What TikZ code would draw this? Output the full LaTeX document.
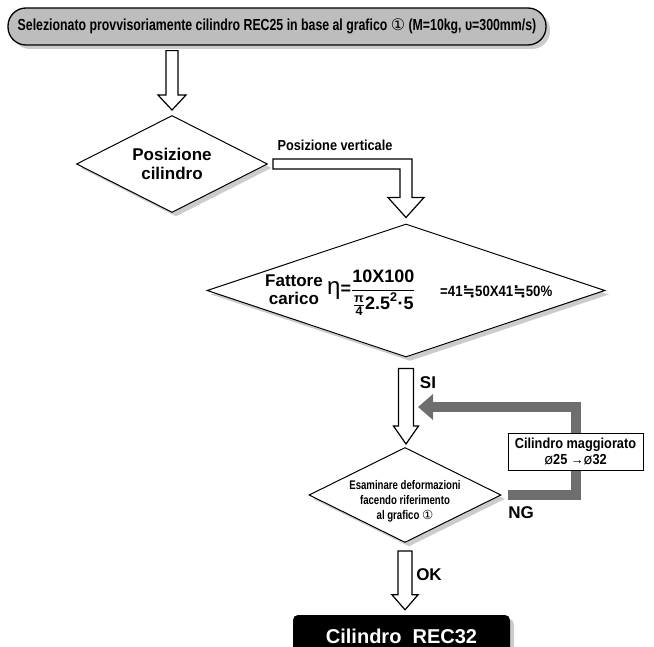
\documentclass[tikz,border=0pt]{standalone}
\usepackage{amsmath}
\usepackage{fontspec}
\setmainfont{Liberation Sans}
\newfontfamily\narrowfont[FakeStretch=0.77]{Liberation Sans}
\newfontfamily\semifont[FakeStretch=0.88]{Liberation Sans}
\newfontfamily\symfont{DejaVu Sans}
\usetikzlibrary{shapes.geometric}
\usetikzlibrary{arrows.meta,calc,shadows,backgrounds}
\usetikzlibrary{positioning}

\newcommand{\fsz}[1]{\fontsize{#1}{#1}\selectfont}
\newcommand{\blockarrow}[5]{%
  \draw[hollow] let \p1=(#1), \p2=(#2) in
    (\x1-#3,\y1) -- (\x1+#3,\y1) -- (\x1+#3,\y2+#5) -- (\x1+#4,\y2+#5)
    -- (\x1,\y2) -- (\x1-#4,\y2+#5) -- (\x1-#3,\y2+#5) -- cycle;}
\newcommand{\elbowarrow}[2]{%
  \draw[hollow] let \p1=(#1), \p2=(#2) in
    (\x1,\y1+5) -- (\x2+6,\y1+5) -- (\x2+6,\y2+20) -- (\x2+18,\y2+20) -- (\x2,\y2)
    -- (\x2-18,\y2+20) -- (\x2-6,\y2+20) -- (\x2-6,\y1-5) -- (\x1,\y1-5) -- cycle;}

\begin{document}
\begin{tikzpicture}[x=1pt,y=-1pt,
    shade/.style={drop shadow={shadow xshift=4pt,shadow yshift=-4pt,fill=black!20,opacity=1}},
    startbox/.style={draw,line width=1.3pt,rounded corners=18pt,fill=black!26,minimum width=538pt,
      minimum height=37pt,inner sep=0pt,shade,font=\bfseries\narrowfont\fsz{16}},
    choice/.style={diamond,draw,line width=1pt,fill=white,inner sep=0pt,aspect=2,shade},
    hollow/.style={draw,line width=1.2pt,fill=white},
    backarrow/.style={line width=10pt,draw=black!57,-{Triangle[length=15pt,width=25pt]}},
    lbl/.style={font=\bfseries\fsz{17},inner sep=0pt}]
    \useasboundingbox (0,0) rectangle (654,647);
		\node[startbox] (start) at (277,26.5) {Selezionato provvisoriamente cilindro REC25 in base al grafico {\symfont\mdseries ①} (M=10kg, υ=300mm/s)};
		\node[choice,minimum width=191pt,minimum height=97pt,align=center,font=\bfseries\fontsize{17}{19}\selectfont] (pos) at (172,164) {Posizione\\cilindro};
		\node[choice,minimum width=398pt,minimum height=133pt] (load) at (406,290.5) {};
		\node[align=center,font=\bfseries\fontsize{17}{18}\selectfont] (fc) at (294,290) {Fattore\\carico};
		\node[anchor=base west,inner sep=0pt,font=\bfseries\fsz{18}] (eta) at (327,294.5) {$\text{\mdseries\fsz{24}η}\text{=}\dfrac{\text{10X100}}{\tfrac{\text{π}}{\text{4}}\text{2.5}^{\text{2}}\text{·5}}$};
		\node[anchor=base west,inner sep=0pt,font=\bfseries\semifont\fsz{15}] (res) at (440,297) {=41{\symfont ≒}50X41{\symfont ≒}50\%};
		\node[choice,minimum width=192pt,minimum height=95pt] (chk) at (405,495) {};
		\node[align=center,font=\bfseries\narrowfont\fontsize{12.5}{15}\selectfont] (chktxt) at ([yshift=-6pt]chk.center) {Esaminare deformazioni\\facendo riferimento\\al grafico {\symfont\mdseries ①}};
		\node[draw,fill=white,line width=0.6pt,minimum width=135pt,minimum height=37pt,inner sep=0pt,align=center,font=\bfseries\semifont\fontsize{14.5}{16}\selectfont] (mag) at (575.5,451.5) {Cilindro maggiorato\\{\symfont\mdseries ø}25 →{\symfont\mdseries ø}32};
		\node[fill=black,rounded corners=5pt,minimum width=217pt,minimum height=42pt,text=white,font=\bfseries\fsz{20},shade] (end) at (401.5,636) {Cilindro\ \ REC32};
		\node[font=\bfseries\semifont\fsz{14.5}] (vert) at (335,145) {Posizione verticale};
		\node[lbl] (si) at (428,383) {SI};
		\node[lbl] (ng) at (521,513) {NG};
		\node[lbl] (ok) at (429,575) {OK};
		\coordinate (a1s) at ([yshift=-5pt]start.south -| pos.north);
		\coordinate (a1e) at ([yshift=5pt]pos.north);
		\coordinate (e1s) at ([xshift=5pt]pos.east);
		\coordinate (e1e) at ([yshift=6pt]load.north);
		\coordinate (a2s) at ([yshift=-11pt]load.south);
		\coordinate (a2e) at ([yshift=3pt]chk.north);
		\coordinate (a3s) at ([yshift=-8pt]chk.south);
		\coordinate (a3e) at ([yshift=5pt]end.north);
		\coordinate (backend) at (418,407);
		\blockarrow{a1s}{a1e}{6}{14}{15}
		\elbowarrow{e1s}{e1e}
		\blockarrow{a2s}{a2e}{7.5}{12.5}{18}
		\blockarrow{a3s}{a3e}{7}{13}{15}
		\begin{scope}[on background layer]
		\draw[backarrow] ([xshift=6pt]chk.east) -- (chk.east -| mag.center) -- (mag.center |- backend) -- (backend);
		\end{scope}
\end{tikzpicture}
\end{document}
